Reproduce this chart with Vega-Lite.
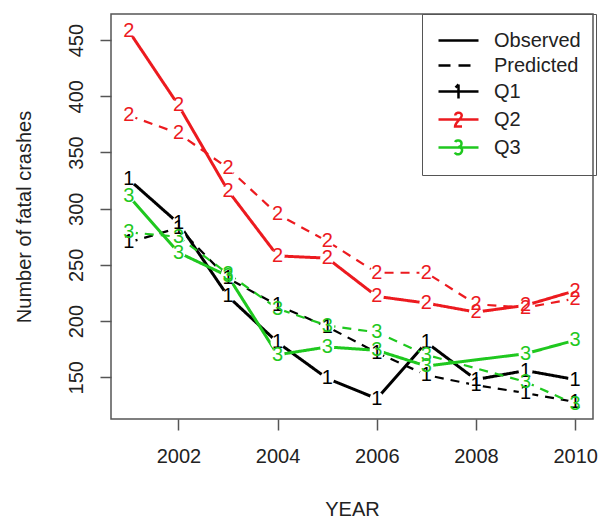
{
  "$schema": "https://vega.github.io/schema/vega-lite/v6.json",
  "width": 482,
  "height": 405,
  "autosize": {"type": "none"},
  "padding": {"left": 111, "top": 14, "right": 6, "bottom": 100},
  "background": "white",
  "config": {
    "font": "Liberation Sans",
    "view": {"stroke": "#555555", "strokeWidth": 1.5},
    "axis": {"grid": false, "domain": false, "tickColor": "#555555", "tickWidth": 1.5, "tickSize": 11,
             "labelFont": "Liberation Sans", "labelFontSize": 20, "labelColor": "#222222",
             "titleFont": "Liberation Sans", "titleFontSize": 20, "titleFontWeight": "normal", "titleColor": "#222222"}
  },
  "data": {"values": [
    {"year": 2001, "q": "1", "type": "Observed", "value": 326},
    {"year": 2002, "q": "1", "type": "Observed", "value": 287},
    {"year": 2003, "q": "1", "type": "Observed", "value": 222},
    {"year": 2004, "q": "1", "type": "Observed", "value": 181},
    {"year": 2005, "q": "1", "type": "Observed", "value": 149},
    {"year": 2006, "q": "1", "type": "Observed", "value": 131},
    {"year": 2007, "q": "1", "type": "Observed", "value": 181},
    {"year": 2008, "q": "1", "type": "Observed", "value": 148},
    {"year": 2009, "q": "1", "type": "Observed", "value": 156},
    {"year": 2010, "q": "1", "type": "Observed", "value": 148},
    {"year": 2001, "q": "1", "type": "Predicted", "value": 270},
    {"year": 2002, "q": "1", "type": "Predicted", "value": 283},
    {"year": 2003, "q": "1", "type": "Predicted", "value": 238},
    {"year": 2004, "q": "1", "type": "Predicted", "value": 214},
    {"year": 2005, "q": "1", "type": "Predicted", "value": 195},
    {"year": 2006, "q": "1", "type": "Predicted", "value": 172},
    {"year": 2007, "q": "1", "type": "Predicted", "value": 152},
    {"year": 2008, "q": "1", "type": "Predicted", "value": 143},
    {"year": 2009, "q": "1", "type": "Predicted", "value": 136},
    {"year": 2010, "q": "1", "type": "Predicted", "value": 128},
    {"year": 2001, "q": "2", "type": "Observed", "value": 458},
    {"year": 2002, "q": "2", "type": "Observed", "value": 392},
    {"year": 2003, "q": "2", "type": "Observed", "value": 316},
    {"year": 2004, "q": "2", "type": "Observed", "value": 258},
    {"year": 2005, "q": "2", "type": "Observed", "value": 256},
    {"year": 2006, "q": "2", "type": "Observed", "value": 222},
    {"year": 2007, "q": "2", "type": "Observed", "value": 216},
    {"year": 2008, "q": "2", "type": "Observed", "value": 208},
    {"year": 2009, "q": "2", "type": "Observed", "value": 214},
    {"year": 2010, "q": "2", "type": "Observed", "value": 227},
    {"year": 2001, "q": "2", "type": "Predicted", "value": 383},
    {"year": 2002, "q": "2", "type": "Predicted", "value": 367},
    {"year": 2003, "q": "2", "type": "Predicted", "value": 336},
    {"year": 2004, "q": "2", "type": "Predicted", "value": 295},
    {"year": 2005, "q": "2", "type": "Predicted", "value": 271},
    {"year": 2006, "q": "2", "type": "Predicted", "value": 243},
    {"year": 2007, "q": "2", "type": "Predicted", "value": 243},
    {"year": 2008, "q": "2", "type": "Predicted", "value": 215},
    {"year": 2009, "q": "2", "type": "Predicted", "value": 212},
    {"year": 2010, "q": "2", "type": "Predicted", "value": 220},
    {"year": 2001, "q": "3", "type": "Observed", "value": 311},
    {"year": 2002, "q": "3", "type": "Observed", "value": 261},
    {"year": 2003, "q": "3", "type": "Observed", "value": 240},
    {"year": 2004, "q": "3", "type": "Observed", "value": 170},
    {"year": 2005, "q": "3", "type": "Observed", "value": 177},
    {"year": 2006, "q": "3", "type": "Observed", "value": 174},
    {"year": 2007, "q": "3", "type": "Observed", "value": 160},
    {"year": 2009, "q": "3", "type": "Observed", "value": 171},
    {"year": 2010, "q": "3", "type": "Observed", "value": 183},
    {"year": 2001, "q": "3", "type": "Predicted", "value": 279},
    {"year": 2002, "q": "3", "type": "Predicted", "value": 275},
    {"year": 2003, "q": "3", "type": "Predicted", "value": 242},
    {"year": 2004, "q": "3", "type": "Predicted", "value": 211},
    {"year": 2005, "q": "3", "type": "Predicted", "value": 196},
    {"year": 2006, "q": "3", "type": "Predicted", "value": 190},
    {"year": 2007, "q": "3", "type": "Predicted", "value": 170},
    {"year": 2009, "q": "3", "type": "Predicted", "value": 146},
    {"year": 2010, "q": "3", "type": "Predicted", "value": 126}
  ]},
  "encoding": {
    "x": {"field": "year", "type": "quantitative",
          "scale": {"domain": [2000.64, 2010.36], "nice": false, "zero": false},
          "axis": {"values": [2002, 2004, 2006, 2008, 2010], "format": "d", "labelPadding": 16,
                   "title": "YEAR", "titleX": 241, "titleY": 90, "titleBaseline": "middle", "titleAlign": "center", "titleAngle": 0}},
    "y": {"field": "value", "type": "quantitative",
          "scale": {"domain": [112.9, 473.2], "nice": false, "zero": false},
          "axis": {"values": [150, 200, 250, 300, 350, 400, 450], "labelAngle": 270, "labelAlign": "center", "labelBaseline": "bottom", "labelPadding": 14,
                   "title": "Number of fatal crashes", "titleX": -87, "titleY": 202.5, "titleAngle": 270, "titleBaseline": "middle", "titleAlign": "center"}}
  },
  "layer": [
    {
      "mark": {"type": "line"},
      "encoding": {
        "detail": {"field": "type"},
        "color": {"field": "q", "type": "nominal",
                  "scale": {"domain": ["Observed", "Predicted", "1", "2", "3"], "range": ["#000000", "#000000", "#000000", "#ec1a1f", "#1fc81f"]},
                  "legend": {
                    "title": null, "orient": "none", "legendX": 311, "legendY": 0,
                    "strokeColor": "#555555", "padding": 15, "rowPadding": 3,
                    "labelFont": "Liberation Sans", "labelFontSize": 20, "labelColor": "#222222",
                    "labelOffset": 34, "symbolSize": 400, "symbolStrokeWidth": 2.5,
                    "symbolFillColor": "transparent",
                    "labelExpr": "length(datum.label) == 1 ? 'Q' + datum.label : datum.label",
                    "encode": {"symbols": {"update": {
                      "fill": {"value": "transparent"},
                      "fillOpacity": {"value": 0},
                      "strokeDash": {"signal": "datum.value === 'Predicted' ? [12, 8] : [1, 0]"},
                      "shape": {"signal": "datum.value === '1' ? 'M-1,0H3M1,-0.7V0.7M0.7,-0.4L1,-0.7' : datum.value === '2' ? 'M-1,0H3M0.68,-0.4C0.68,-0.78 1.32,-0.78 1.32,-0.4C1.32,-0.1 0.68,0.3 0.66,0.7H1.35' : datum.value === '3' ? 'M-1,0H3M0.66,-0.55C0.8,-0.8 1.32,-0.75 1.3,-0.38C1.28,-0.1 1.05,-0.05 0.95,-0.05C1.4,-0.02 1.38,0.3 1.33,0.4C1.2,0.78 0.75,0.75 0.64,0.5' : 'M-1,0H3'"}
                    }}}
                  }},
        "strokeDash": {"field": "type", "type": "nominal", "scale": {"domain": ["Observed", "Predicted"], "range": [[1, 0], [9, 7]]}, "legend": null},
        "strokeWidth": {"field": "type", "type": "nominal", "scale": {"domain": ["Observed", "Predicted"], "range": [3, 2.2]}, "legend": null}
      }
    },
    {
      "mark": {"type": "point", "shape": "circle", "filled": true, "size": 200, "opacity": 1, "color": "white"}
    },
    {
      "mark": {"type": "text", "fontSize": 20, "font": "Liberation Sans", "align": "center", "baseline": "middle"},
      "encoding": {
        "text": {"field": "q"},
        "color": {"field": "q", "type": "nominal", "legend": null}
      }
    }
  ]
}
